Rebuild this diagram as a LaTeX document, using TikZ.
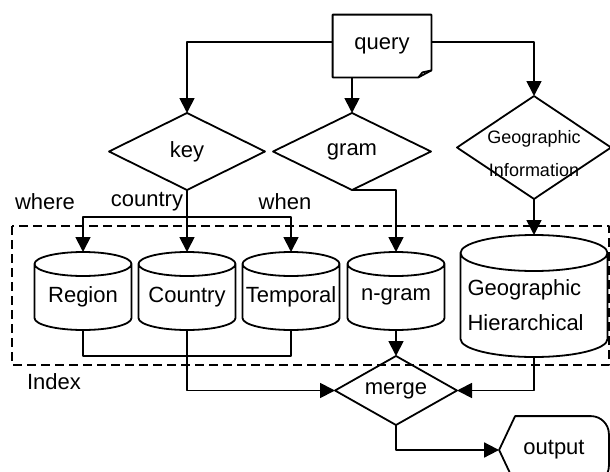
\documentclass[tikz,border=0pt]{standalone}
\usepackage{fontspec}
\setmainfont{Liberation Sans}
\usetikzlibrary{shapes.geometric,arrows.meta}
\begin{document}
\begin{tikzpicture}[x=1pt, y=-1pt, font=\fontsize{22}{35}\selectfont, line join=round, line width=1.8pt,
  >={Triangle[length=15pt,width=15pt]},
  dec/.style={diamond, draw, aspect=2, inner sep=1pt, outer sep=0pt},
  db/.style={inner sep=0pt, outer sep=0pt},
  lbl/.style={inner sep=0pt}]
\clip (0,0) rectangle (610,471);
% index frame
\draw[dash pattern=on 9pt off 5pt, line width=1.6pt] (12,226) rectangle (609,365);
\node[lbl] (idx) at (54,382) {Index};

% query document
\node[minimum width=97pt, minimum height=61pt, inner sep=0pt] (query) at (382,46) {query};
\draw ([yshift=7pt]query.south east) -- (query.north east) -- (query.north west) -- (query.south west)
  -- ([xshift=-13pt]query.south east) -- cycle;
\draw ([yshift=7pt]query.south east) -- ++(-9,2) -- ([xshift=-13pt]query.south east);

% decisions
\node[dec, minimum width=156pt, minimum height=77pt] (key) at (187,151.5) {key};
\node[dec, minimum width=158pt, minimum height=77pt] (gram) at (352,151.5) {gram};
\node[dec, minimum width=154pt, minimum height=103pt,
  label={[font=\fontsize{18}{33}\selectfont, align=center, yshift=-6pt]center:{Geographic\\Information}}] (geoinfo) at (534,147.5) {};
\node[dec, aspect=1.77, minimum width=122pt, minimum height=69pt] (merge) at (396,390.5) {merge};

% branch labels
\node[lbl] (where) at (45,202) {where};
\node[lbl] (cntry) at (147,202) {country};
\node[lbl] (when) at (285,202) {when};

% index tables
\node[db, minimum width=97pt, minimum height=66pt] (region) at (83,297) {Region};
\node[db, minimum width=97pt, minimum height=66pt] (country) at (187,297) {Country};
\node[db, minimum width=97pt, minimum height=66pt] (temporal) at (291,297) {Temporal};
\node[db, minimum width=97pt, minimum height=66pt] (ngram) at (396,297) {n-gram};
\node[db, minimum width=147pt, minimum height=104pt, text width=133pt, align=left] (geoidx) at (534,305) {Geographic\\Hierarchical};
\foreach \n/\rx/\ry in {region/48.5/12, country/48.5/12, temporal/48.5/12, ngram/48.5/12, geoidx/73.5/18}
  \draw (\n.north west) -- ([yshift=\ry pt]\n.south west)
    arc[start angle=180, end angle=360, x radius=\rx pt, y radius=\ry pt] -- (\n.north east)
    arc[start angle=0, end angle=360, x radius=\rx pt, y radius=\ry pt];

% output display
\node[minimum width=108pt, minimum height=66pt, inner sep=0pt] (output) at (554,450) {output};
\draw (output.west) -- ([xshift=16pt]output.north west) -- ([xshift=-18pt]output.north east)
  arc[start angle=90, end angle=0, radius=18pt] -- ([yshift=18pt]output.south east)
  arc[start angle=0, end angle=-90, radius=18pt] -- ([xshift=16pt]output.south west) -- cycle;

% connectors
\coordinate (br) at (187,217);
\draw[->] ([yshift=4pt]query.west) -| (key.north);
\draw[->] (query.south -| gram.north) -- (gram.north);
\draw[->] ([yshift=4pt]query.east) -| (geoinfo.north);
\draw (key.south) -- (br);
\draw[->] (br) -| ([yshift=12pt]region.north);
\draw[->] (br) -- ([yshift=12pt]country.north);
\draw[->] (br) -| ([yshift=12pt]temporal.north);
\draw[->] (gram.south) -| ([yshift=12pt]ngram.north);
\draw[->] (geoinfo.south) -- ([yshift=18pt]geoidx.north);
\draw (region.south) -- ++(0,26) -| (temporal.south);
\draw[->] (country.south) |- (merge.west);
\draw[->] (ngram.south) -- (merge.north);
\draw[->] (geoidx.south) |- (merge.east);
\draw[->] (merge.south) |- (output.west);
\end{tikzpicture}
\end{document}
